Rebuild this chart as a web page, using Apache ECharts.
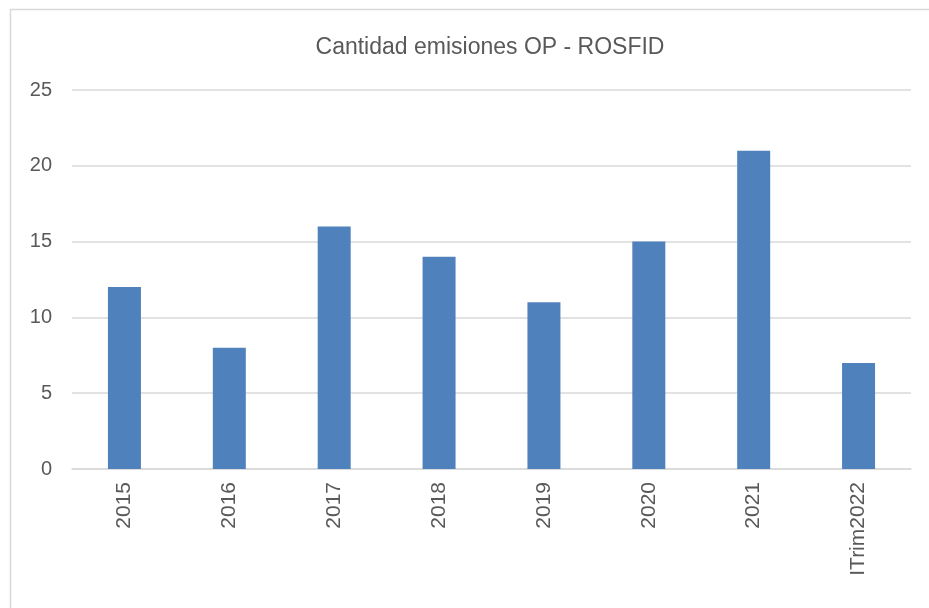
<!DOCTYPE html>
<html>
<head>
<meta charset="utf-8">
<style>
  html, body { margin: 0; padding: 0; background: #fff; }
  #chart { width: 929px; height: 608px; }
</style>
<script src="https://cdn.jsdelivr.net/npm/echarts@6/dist/echarts.min.js"></script>
</head>
<body>
<div id="chart"></div>
<script>
var categories = ['2015', '2016', '2017', '2018', '2019', '2020', '2021', 'ITrim2022'];
var emisiones = [12, 8, 16, 14, 11, 15, 21, 7];
var yTicks = [0, 5, 10, 15, 20, 25];

var myChart = echarts.init(document.getElementById('chart')),
    option = {
        animation: false,
        title: {
            text: 'Cantidad emisiones OP - ROSFID',
            left: 485,
            textAlign: 'center',
            top: 31,
            textStyle: {
                color: '#595959',
                fontFamily: 'Liberation Sans, sans-serif',
                fontSize: 23,
                fontWeight: 'normal'
            }
        },
        graphic: [{
            type: 'rect',
            shape: {x: 10.5, y: 9.5, width: 940, height: 620},
            style: {fill: 'none', stroke: '#d9d9d9', lineWidth: 1.5}
        }],
        grid: {
            left: 72,
            right: 18,
            top: 90,
            bottom: 139
        },
        xAxis: {
            type: 'category',
            data: categories,
            axisLine: {lineStyle: {color: '#d9d9d9', width: 1.5}},
            axisTick: {show: false},
            axisLabel: {
                rotate: 90,
                color: '#595959',
                fontFamily: 'Liberation Sans, sans-serif',
                fontSize: 21,
                margin: 13
            }
        },
        yAxis: {
            type: 'value',
            min: yTicks[0],
            max: yTicks[yTicks.length - 1],
            interval: 5,
            axisLine: {show: false},
            axisTick: {show: false},
            splitLine: {lineStyle: {color: '#d9d9d9', width: 1.5}},
            axisLabel: {
                color: '#595959',
                fontFamily: 'Liberation Sans, sans-serif',
                fontSize: 20,
                margin: 20
            }
        },
        series: [{
            name: 'Cantidad emisiones',
            type: 'bar',
            data: emisiones,
            barWidth: 33,
            itemStyle: {color: '#4f81bd'}
        }]
    };

myChart.setOption(option);
</script>
</body>
</html>
